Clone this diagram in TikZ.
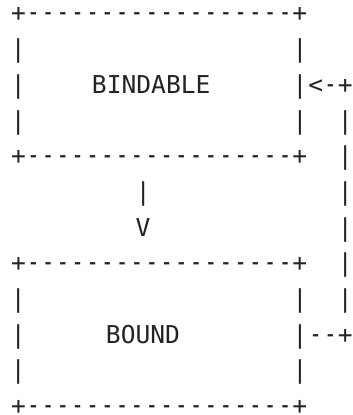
\documentclass[tikz,border=0pt]{standalone}
\usepackage{fontspec}
\usepackage{graphicx}
\newfontfamily\asciifont{DejaVu Sans Mono}
\definecolor{ink}{HTML}{212529}
% a hyphen drawn a little shorter, in a full character cell
\newcommand\dsh{\makebox[0.602em][c]{\scalebox{0.85}[1.15]{-}}}
\newcommand\edge{+\dsh\dsh\dsh\dsh\dsh\dsh\dsh\dsh\dsh\dsh\dsh\dsh\dsh\dsh\dsh\dsh\dsh\dsh+}
\begin{document}
\begin{tikzpicture}[x=1pt,y=-1pt,
  ch/.style={inner sep=0pt, outer sep=0pt, anchor=base, text=ink,
             font=\asciifont\fontsize{24.6pt}{30pt}\selectfont},
  tail/.style={ch, anchor=base west}]
\fill[white] (0,0) rectangle (353,415);
\useasboundingbox (0,0) rectangle (353,415);

% box BINDABLE
\node[ch] (bindTop) at (159.2,21.9) {\edge};
\node[ch] (bindL2) at (18.3,57.6) {|};
\node[ch] (bindR2) at (300,57.6) {|};
\node[ch] (bindL3) at (18.3,93.3) {|};
\node[ch] (bindable) at (151.2,93.3) {BINDABLE};
\node[ch] (bindR3) at (300,93.3) {|};
\node[tail] (backIn) at (308.3,93.3) {<\dsh+};
\node[ch] (bindL4) at (18.3,129.0) {|};
\node[ch] (bindR4) at (300,129.0) {|};
\node[ch] (bindBot) at (159.2,164.7) {\edge};

% downward arrow
\node[ch] (arrShaft) at (143.3,200.4) {|};
\node[ch] (arrHead) at (143,236.1) {V};

% box BOUND
\node[ch] (boundTop) at (159.2,271.8) {\edge};
\node[ch] (boundL9) at (18.3,307.5) {|};
\node[ch] (boundR9) at (300,307.5) {|};
\node[ch] (boundL10) at (18.3,343.2) {|};
\node[ch] (bound) at (143,343.2) {BOUND};
\node[ch] (boundR10) at (300,343.2) {|};
\node[tail] (backOut) at (308.3,343.2) {\dsh\dsh+};
\node[ch] (boundL11) at (18.3,378.9) {|};
\node[ch] (boundR11) at (300,378.9) {|};
\node[ch] (boundBot) at (159.2,414.0) {\edge};

% return path on the right
\foreach \k/\y in {4/129.0,5/164.7,6/200.4,7/236.1,8/271.8,9/307.5}
  \node[ch] (back\k) at (345.3,\y) {|};
\end{tikzpicture}
\end{document}
